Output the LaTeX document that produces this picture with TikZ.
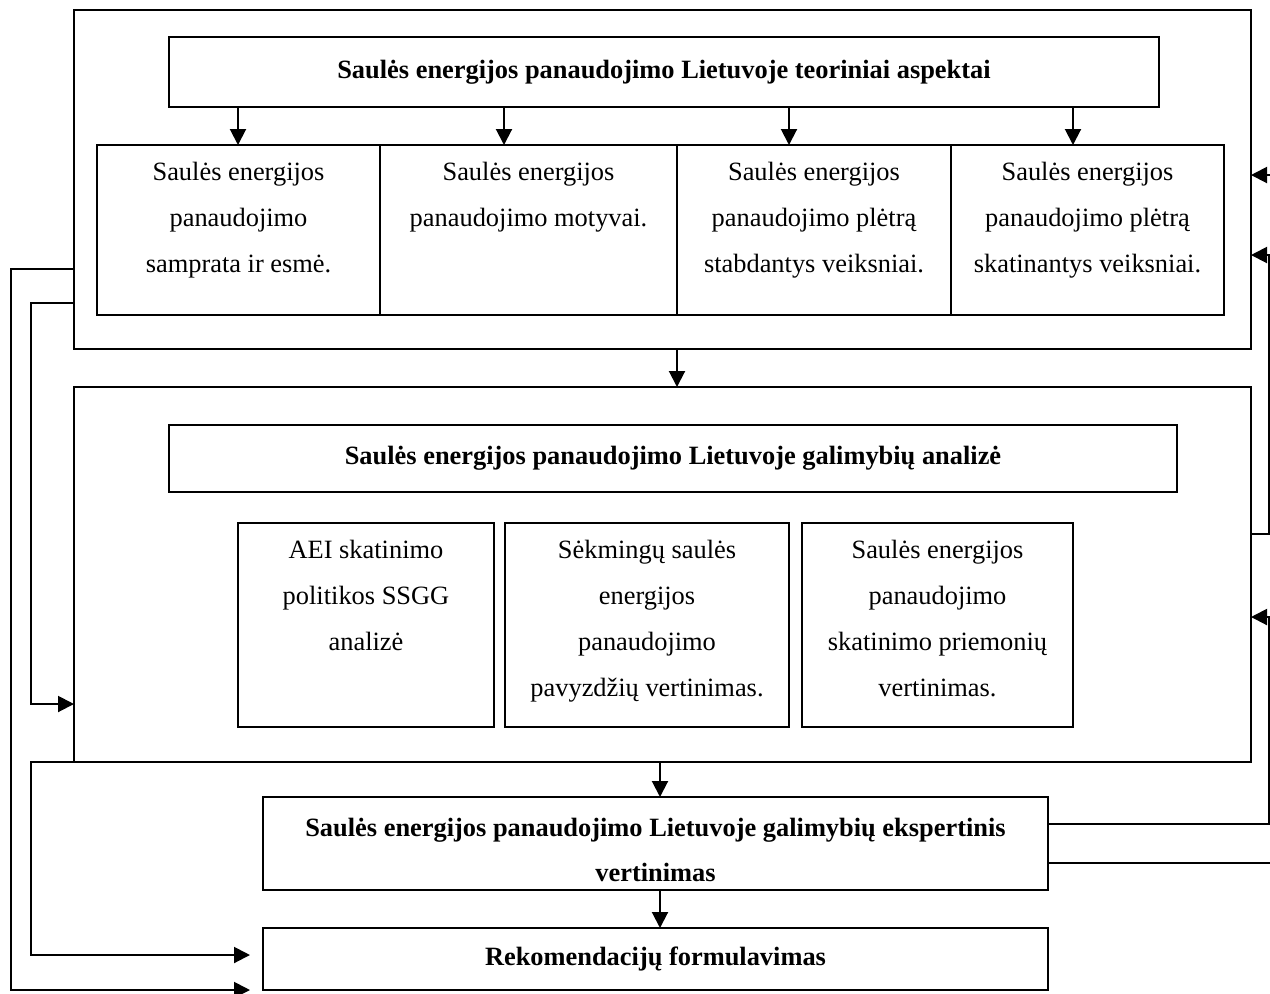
\documentclass[tikz,border=0pt]{standalone}
\usepackage{fontspec}
\setmainfont{Liberation Serif}
\usetikzlibrary{arrows.meta}
\begin{document}
\begin{tikzpicture}[x=0.5pt,y=-0.5pt,
  every node/.style={font=\fontsize{13.2}{23}\selectfont},
  bx/.style 2 args={draw, line width=1pt, rectangle, inner sep=0pt, outer sep=0pt,
    minimum width=#1*0.5pt, minimum height=#2*0.5pt},
  txt/.style={inner sep=0pt, align=center, anchor=north},
  ttl/.style={inner sep=0pt, align=center, font=\fontsize{13.2}{23}\selectfont\bfseries},
  arr/.style={line width=1pt, -{Triangle[length=8pt,width=8pt]}},
  ln/.style={line width=1pt}]
\useasboundingbox (0,0) rectangle (1270,993);
% lanes
\coordinate (xa1) at (238,0); \coordinate (xa2) at (504,0);
\coordinate (xa3) at (789,0); \coordinate (xa4) at (1073,0);
\coordinate (xm1) at (677,0); \coordinate (xm2) at (660,0);
\coordinate (xL1) at (11,0); \coordinate (xL2) at (31,0);
\coordinate (xR1) at (1269,0); \coordinate (xR2) at (1290,0);
\coordinate (yA) at (0,269); \coordinate (yB) at (0,303);
\coordinate (yC) at (0,704); \coordinate (yD) at (0,955);
\coordinate (yE) at (0,990);
\coordinate (yR1) at (0,175); \coordinate (yR2) at (0,255);
\coordinate (yR3) at (0,534); \coordinate (yR4) at (0,617);
\coordinate (yR5) at (0,824); \coordinate (yR6) at (0,863);
% block 1
\node[bx={1177}{339}] (b1) at (662.5,179.5) {};
\node[bx={990}{70}] (t1) at (664,72) {};
\node[ttl] (t1t) at (t1.center) {Saulės energijos panaudojimo Lietuvoje teoriniai aspektai};
\node[bx={283}{170}] (s1) at (238.5,230) {};
\node[bx={297}{170}] (s2) at (528.5,230) {};
\node[bx={274}{170}] (s3) at (814,230) {};
\node[bx={273}{170}] (s4) at (1087.5,230) {};
\node[txt] (s1t) at (238.5,162) {Saulės energijos\\panaudojimo\\samprata ir esmė.};
\node[txt] (s2t) at (528.5,162) {Saulės energijos\\panaudojimo motyvai.};
\node[txt] (s3t) at (814,162) {Saulės energijos\\panaudojimo plėtrą\\stabdantys veiksniai.};
\node[txt] (s4t) at (1087.5,162) {Saulės energijos\\panaudojimo plėtrą\\skatinantys veiksniai.};
% block 2
\node[bx={1177}{375}] (b2) at (662.5,574.5) {};
\node[bx={1008}{67}] (t2) at (673,458.5) {};
\node[ttl] (t2t) at (t2.center) {Saulės energijos panaudojimo Lietuvoje galimybių analizė};
\node[bx={256}{204}] (a) at (366,625) {};
\node[bx={284}{204}] (b) at (647,625) {};
\node[bx={271}{204}] (c) at (937.5,625) {};
\node[txt] (at) at (366,540) {AEI skatinimo\\politikos SSGG\\analizė};
\node[txt] (bt) at (647,540) {Sėkmingų saulės\\energijos\\panaudojimo\\pavyzdžių vertinimas.};
\node[txt] (ct) at (937.5,540) {Saulės energijos\\panaudojimo\\skatinimo priemonių\\vertinimas.};
% bottom boxes
\node[bx={785}{93}] (eks) at (655.5,843.5) {};
\node[txt, font=\fontsize{13.2}{22.5}\selectfont\bfseries] (ekst) at (655.5,818) {Saulės energijos panaudojimo Lietuvoje galimybių ekspertinis\\vertinimas};
\node[bx={785}{62}] (rek) at (655.5,959) {};
\node[ttl] (rekt) at (rek.center) {Rekomendacijų formulavimas};
% arrows inside block 1
\foreach \x/\s in {xa1/s1,xa2/s2,xa3/s3,xa4/s4}
  \draw[arr] (t1.south -| \x) -- (\s.north -| \x);
% vertical flow
\draw[arr] (b1.south -| xm1) -- (b2.north -| xm1);
\draw[arr] (b2.south -| xm2) -- (eks.north -| xm2);
\draw[arr] (eks.south -| xm2) -- (rek.north -| xm2);
% left feedback
\draw[arr, shorten >=13*0.5pt] (b1.west |- yA) -| (xL1 |- yE) -- (rek.west |- yE);
\draw[arr] (b1.west |- yB) -| (xL2 |- yC) -- (b2.west |- yC);
\draw[arr, shorten >=13*0.5pt] (b2.south west) -| (xL2 |- yD) -- (rek.west |- yD);
% right feedback
\draw[arr] (eks.east |- yR6) -| (xR2 |- yR1) -- (b1.east |- yR1);
\draw[arr] (b2.east |- yR3) -| (xR1 |- yR2) -- (b1.east |- yR2);
\draw[arr] (eks.east |- yR5) -| (xR1 |- yR4) -- (b2.east |- yR4);
\end{tikzpicture}
\end{document}
